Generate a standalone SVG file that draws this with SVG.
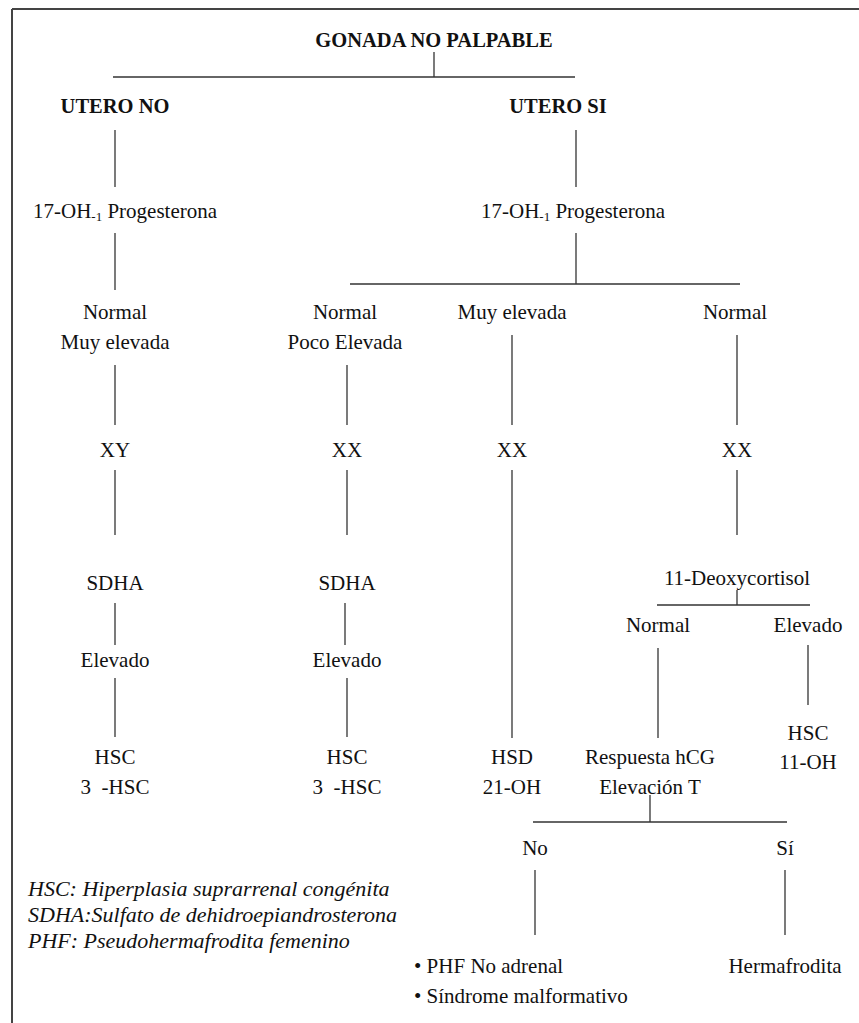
<svg xmlns="http://www.w3.org/2000/svg" width="859" height="1023" viewBox="0 0 859 1023">
<style>
text{font-family:'Liberation Serif','Times New Roman','DejaVu Serif',serif;font-size:21px;fill:#111;text-anchor:middle}
.b{font-weight:bold;font-size:20.5px}
.i{font-style:italic;text-anchor:start;font-size:22px}
.s{text-anchor:start}
.sub{font-size:13px}
line{stroke:#333;stroke-width:1.3}
</style>
<defs><clipPath id="lg"><rect x="0" y="860" width="410" height="100"/></clipPath></defs>
<rect width="859" height="1023" fill="#fff"/>
<g id="frame"><line x1="12" y1="9" x2="859" y2="9" style="stroke:#444;stroke-width:2"/><line x1="12" y1="9" x2="12" y2="1023" style="stroke:#444;stroke-width:2"/></g>
<g id="connectors">
<line x1="434" y1="52" x2="434" y2="77"/><line x1="113" y1="77" x2="575" y2="77"/>
<line x1="115" y1="130" x2="115" y2="187"/><line x1="576" y1="130" x2="576" y2="187"/>
<line x1="115" y1="233" x2="115" y2="290"/><line x1="576" y1="233" x2="576" y2="284"/>
<line x1="350" y1="284" x2="740" y2="284"/>
<line x1="115" y1="365" x2="115" y2="425"/><line x1="347" y1="365" x2="347" y2="425"/>
<line x1="512" y1="335" x2="512" y2="425"/><line x1="737" y1="335" x2="737" y2="425"/>
<line x1="115" y1="470" x2="115" y2="535"/><line x1="347" y1="470" x2="347" y2="535"/>
<line x1="512" y1="470" x2="512" y2="738"/><line x1="737" y1="470" x2="737" y2="535"/>
<line x1="115" y1="603" x2="115" y2="645"/><line x1="345" y1="603" x2="345" y2="645"/>
<line x1="115" y1="678" x2="115" y2="737"/><line x1="347" y1="678" x2="347" y2="737"/>
<line x1="737" y1="590" x2="737" y2="605"/><line x1="657" y1="605" x2="810" y2="605"/>
<line x1="658" y1="648" x2="658" y2="738"/><line x1="808" y1="645" x2="808" y2="705"/>
<line x1="650" y1="795" x2="650" y2="822"/><line x1="533" y1="822" x2="787" y2="822"/>
<line x1="535" y1="870" x2="535" y2="935"/><line x1="785" y1="870" x2="785" y2="935"/>
</g>
<g id="n-root"><text class="b" x="434" y="47">GONADA NO PALPABLE</text></g>
<g id="n-utero-no"><text class="b" x="115" y="113">UTERO NO</text></g>
<g id="n-utero-si"><text class="b" x="558" y="113">UTERO SI</text></g>
<g id="n-17oh-l"><text x="125" y="218">17-OH<tspan class="sub" dy="3">-1</tspan><tspan dy="-3"> Progesterona</tspan></text></g>
<g id="n-17oh-r"><text x="573" y="218">17-OH<tspan class="sub" dy="3">-1</tspan><tspan dy="-3"> Progesterona</tspan></text></g>
<g id="n-c1"><text x="115" y="319">Normal</text><text x="115" y="349">Muy elevada</text></g>
<g id="n-c2"><text x="345" y="319">Normal</text><text x="345" y="349">Poco Elevada</text></g>
<g id="n-c3"><text x="512" y="319">Muy elevada</text></g>
<g id="n-c4"><text x="735" y="319">Normal</text></g>
<g id="n-xy"><text x="115" y="457">XY</text></g>
<g id="n-xx2"><text x="347" y="457">XX</text></g>
<g id="n-xx3"><text x="512" y="457">XX</text></g>
<g id="n-xx4"><text x="737" y="457">XX</text></g>
<g id="n-sdha1"><text x="115" y="590">SDHA</text></g>
<g id="n-sdha2"><text x="347" y="590">SDHA</text></g>
<g id="n-deoxy"><text x="737" y="585">11-Deoxycortisol</text></g>
<g id="n-elev1"><text x="115" y="667">Elevado</text></g>
<g id="n-elev2"><text x="347" y="667">Elevado</text></g>
<g id="n-normal5"><text x="658" y="632">Normal</text></g>
<g id="n-elev5"><text x="808" y="632">Elevado</text></g>
<g id="n-hsc-r"><text x="808" y="740">HSC</text><text x="808" y="769">11-OH</text></g>
<g id="n-hsc1"><text x="115" y="764">HSC</text><text x="115" y="794" xml:space="preserve">3  -HSC</text></g>
<g id="n-hsc2"><text x="347" y="764">HSC</text><text x="347" y="794" xml:space="preserve">3  -HSC</text></g>
<g id="n-hsd"><text x="512" y="764">HSD</text><text x="512" y="794">21-OH</text></g>
<g id="n-hcg"><text x="650" y="764">Respuesta hCG</text><text x="650" y="794">Elevación T</text></g>
<g id="n-no"><text x="535" y="855">No</text></g>
<g id="n-si"><text x="785" y="855">Sí</text></g>
<g id="n-phf"><text class="s" x="414" y="973">• PHF No adrenal</text><text class="s" x="414" y="1003">• Síndrome malformativo</text></g>
<g id="n-herma"><text x="785" y="973">Hermafrodita</text></g>
<g id="legend" clip-path="url(#lg)">
<text class="i" x="28" y="896">HSC: Hiperplasia suprarrenal congénita</text>
<text class="i" x="28" y="922">SDHA:Sulfato de dehidroepiandrosterona</text>
<text class="i" x="28" y="948">PHF: Pseudohermafrodita femenino</text>
</g>
</svg>
